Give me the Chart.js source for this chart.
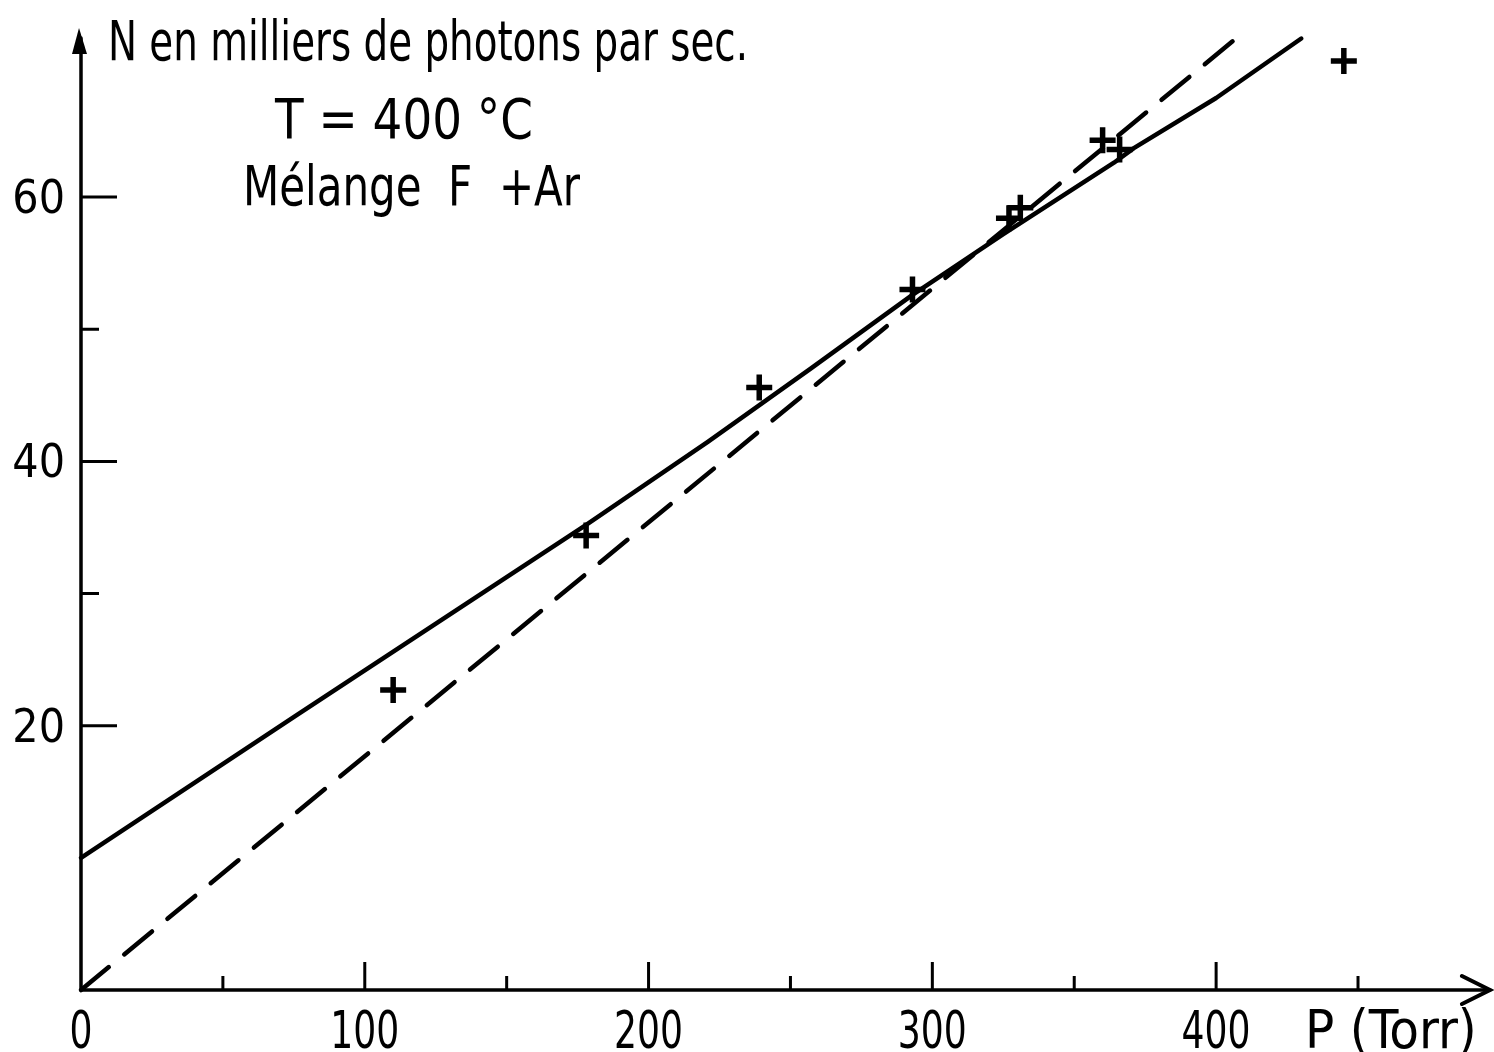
<!DOCTYPE html>
<html>
<head>
<meta charset="utf-8">
<script src="https://cdn.jsdelivr.net/npm/chart.js@4"></script>
<style>
  html, body { margin: 0; padding: 0; background: #fff; }
  canvas { display: block; }
</style>
</head>
<body>
<canvas id="chartPhotons" width="1494" height="1052"></canvas>
<script>
// points mesurés (P en Torr, N en milliers de photons/s)
const pointsP = [110, 178, 239, 293, 327, 331, 360, 366, 445];
const pointsN = [22.7, 34.4, 45.6, 53.0, 58.4, 59.2, 64.3, 63.6, 70.3];

// courbe en trait plein
const solidP = [0, 76, 178, 221, 257, 293, 325, 364, 371, 400, 430];
const solidN = [10, 20.8, 35.2, 41.5, 47.0, 52.6, 57.2, 62.6, 63.7, 67.5, 72.0];

// droite en tirets
const dashedP = [0, 407];
const dashedN = [0, 72];

// graduations
const xTicks = [0, 100, 200, 300, 400];
const xTickLabels = ["0", "100", "200", "300", "400"];
const xMinorTicks = [50, 150, 250, 350, 450];
const yTicks = [20, 40, 60];
const yTickLabels = ["20", "40", "60"];
const yMinorTicks = [30, 50];

const toXY = (xs, ys) => xs.map((x, i) => ({ x: x, y: ys[i] }));

const FONT = '"DejaVu Sans Condensed", "Liberation Sans Narrow", "DejaVu Sans", sans-serif';

const axesPlugin = {
  id: "axesPlugin",
  afterDraw(chart) {
    const c = chart.ctx;
    const xs = chart.scales.x;
    const ys = chart.scales.y;
    const x0 = xs.getPixelForValue(0);
    const y0 = ys.getPixelForValue(0);
    const yTop = ys.getPixelForValue(72.8);
    const xEnd = xs.getPixelForValue(496.5);

    c.save();
    c.strokeStyle = "#000";
    c.fillStyle = "#000";
    c.lineWidth = 3.5;
    c.lineCap = "round";

    // axes
    c.beginPath();
    c.moveTo(x0, y0);
    c.lineTo(x0, yTop + 10);
    c.moveTo(x0, y0);
    c.lineTo(xEnd, y0);
    c.stroke();

    // flèche verticale
    c.beginPath();
    c.moveTo(x0 - 2, yTop);
    c.lineTo(x0 - 9, yTop + 26);
    c.lineTo(x0 + 6, yTop + 26);
    c.closePath();
    c.fill();

    // flèche horizontale
    c.lineWidth = 4;
    c.beginPath();
    c.moveTo(xEnd - 28, y0 - 14);
    c.lineTo(xEnd, y0);
    c.lineTo(xEnd - 28, y0 + 14);
    c.stroke();

    // graduations
    c.lineWidth = 3;
    c.lineCap = "butt";
    c.beginPath();
    xTicks.forEach(v => {
      if (v === 0) return;
      const px = xs.getPixelForValue(v);
      c.moveTo(px, y0);
      c.lineTo(px, y0 - 28);
    });
    xMinorTicks.forEach(v => {
      const px = xs.getPixelForValue(v);
      c.moveTo(px, y0);
      c.lineTo(px, y0 - 14);
    });
    yTicks.forEach(v => {
      const py = ys.getPixelForValue(v);
      c.moveTo(x0, py);
      c.lineTo(x0 + 36, py);
    });
    yMinorTicks.forEach(v => {
      const py = ys.getPixelForValue(v);
      c.moveTo(x0, py);
      c.lineTo(x0 + 18, py);
    });
    c.stroke();

    // étiquettes
    c.font = "52px " + FONT;
    c.textBaseline = "alphabetic";
    c.textAlign = "center";
    xTicks.forEach((v, i) => {
      const px = xs.getPixelForValue(v);
      const lbl = xTickLabels[i];
      c.fillText(lbl, px, y0 + 58, lbl.length * 23);
    });
    c.font = "46px " + FONT;
    c.textAlign = "right";
    yTicks.forEach((v, i) => {
      const py = ys.getPixelForValue(v);
      c.fillText(yTickLabels[i], x0 - 16, py + 16, 56);
    });

    c.textAlign = "left";
    c.font = "54px " + FONT;
    c.fillText("P (Torr)", 1305, y0 + 58, 185);
    c.font = "56px " + FONT;
    c.fillText("N en milliers de photons par sec.", 108, 60, 640);
    c.font = "56px " + FONT;
    c.fillText("T = 400 °C", 275, 138, 258);
    c.font = "56px " + FONT;
    c.fillText("Mélange  F  +Ar", 243, 205, 337);
    c.restore();
  }
};

new Chart(document.getElementById("chartPhotons"), {
  type: "scatter",
  data: {
    datasets: [
      {
        label: "mesures",
        data: toXY(pointsP, pointsN),
        pointStyle: "cross",
        pointRadius: 13,
        pointBorderWidth: 5.5,
        borderColor: "#000",
        backgroundColor: "#000",
        showLine: false,
      },
      {
        label: "trait plein",
        data: toXY(solidP, solidN),
        showLine: true,
        pointRadius: 0,
        borderColor: "#000",
        borderWidth: 4.5,
        borderCapStyle: "round",
        borderJoinStyle: "round",
        tension: 0,
      },
      {
        label: "tirets",
        data: toXY(dashedP, dashedN),
        showLine: true,
        pointRadius: 0,
        borderColor: "#000",
        borderWidth: 4.5,
        borderDash: [36, 20],
        borderCapStyle: "round",
      },
    ],
  },
  options: {
    responsive: false,
    animation: false,
    layout: { padding: { left: 81, right: 4, top: 20, bottom: 62 } },
    plugins: {
      legend: { display: false },
      tooltip: { enabled: false },
    },
    scales: {
      x: { type: "linear", min: 0, max: 491.4, display: false },
      y: { type: "linear", min: 0, max: 73.4, display: false },
    },
    clip: false,
  },
  plugins: [axesPlugin],
});
</script>
</body>
</html>
